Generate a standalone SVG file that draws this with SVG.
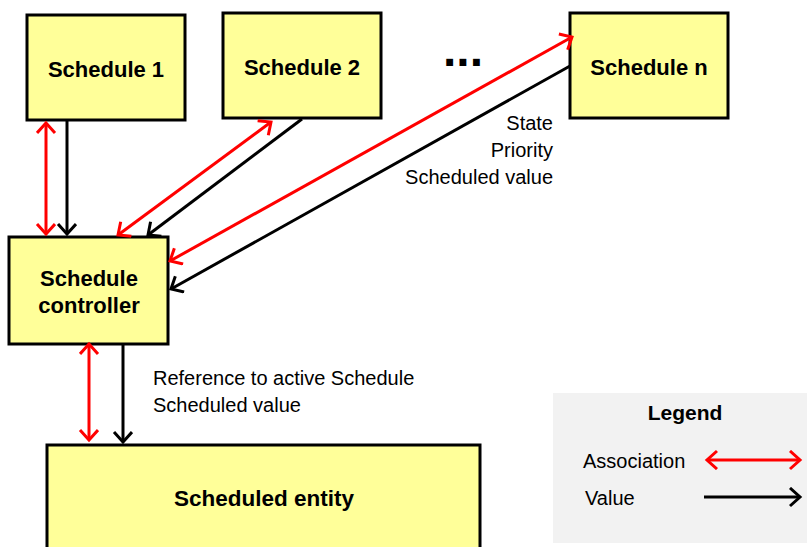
<svg xmlns="http://www.w3.org/2000/svg" width="807" height="547" viewBox="0 0 807 547">
<defs>
<marker id="ahr" markerUnits="userSpaceOnUse" markerWidth="20" markerHeight="24" refX="12" refY="10" orient="auto-start-reverse" viewBox="0 0 20 24">
<path d="M2,1 L12,10 L2,19" fill="none" stroke="#ff0000" stroke-width="3"/>
</marker>
<marker id="ahk" markerUnits="userSpaceOnUse" markerWidth="20" markerHeight="24" refX="12" refY="10" orient="auto-start-reverse" viewBox="0 0 20 24">
<path d="M2,1 L12,10 L2,19" fill="none" stroke="#000" stroke-width="3"/>
</marker>
</defs>
<style>
.box{fill:#ffff99;stroke:#000;stroke-width:3}
.lbl{font-family:"Liberation Sans",Arial,sans-serif;font-weight:bold;font-size:22px;fill:#000;text-anchor:middle}
.txt{font-family:"Liberation Sans",Arial,sans-serif;font-size:20px;fill:#000}
.assoc{stroke:#ff0000;stroke-width:3;fill:none;marker-start:url(#ahr);marker-end:url(#ahr)}
.val{stroke:#000;stroke-width:3;fill:none;marker-end:url(#ahk)}
</style>
<rect width="807" height="547" fill="#fff"/>
<g id="schedule1"><rect class="box" x="27" y="15" width="158" height="105"/><text class="lbl" x="106" y="77">Schedule 1</text></g>
<g id="schedule2"><rect class="box" x="223" y="13" width="158" height="105"/><text class="lbl" x="302" y="75">Schedule 2</text></g>
<g id="schedulen"><rect class="box" x="570" y="13" width="158" height="105"/><text class="lbl" x="649" y="75">Schedule n</text></g>
<g id="dots"><text class="lbl" x="463" y="66" style="font-size:48px">...</text></g>
<g id="controller"><rect class="box" x="9" y="237" width="159" height="107"/><text class="lbl" x="89" y="286">Schedule</text><text class="lbl" x="89" y="313">controller</text></g>
<g id="entity"><rect class="box" x="47" y="445" width="433" height="110"/><text class="lbl" x="264" y="506" style="font-size:22.5px">Scheduled entity</text></g>
<g id="connectors">
<line class="assoc" x1="46" y1="123" x2="46" y2="234"/>
<line class="val" x1="67" y1="120" x2="67" y2="234"/>
<line class="assoc" x1="271" y1="122" x2="118" y2="235"/>
<line class="val" x1="302" y1="119" x2="148" y2="235"/>
<line class="assoc" x1="572" y1="37" x2="170" y2="261"/>
<line class="val" x1="570" y1="66" x2="171" y2="289"/>
<line class="assoc" x1="89" y1="344" x2="89" y2="440"/>
<line class="val" x1="123" y1="344" x2="123" y2="442"/>
</g>
<g id="labels">
<text class="txt" x="553" y="130" text-anchor="end">State</text>
<text class="txt" x="553" y="157" text-anchor="end">Priority</text>
<text class="txt" x="553" y="184" text-anchor="end">Scheduled value</text>
<text class="txt" x="153" y="385">Reference to active Schedule</text>
<text class="txt" x="153" y="412">Scheduled value</text>
</g>
<g id="legend">
<rect x="553" y="393" width="254" height="150" fill="#f2f2f2"/>
<text class="lbl" x="685" y="420" style="font-size:21px">Legend</text>
<text class="txt" x="583" y="468">Association</text>
<text class="txt" x="585" y="505">Value</text>
<line class="assoc" x1="707" y1="460" x2="800" y2="460"/>
<line class="val" x1="704" y1="497" x2="800" y2="497"/>
</g>
</svg>
